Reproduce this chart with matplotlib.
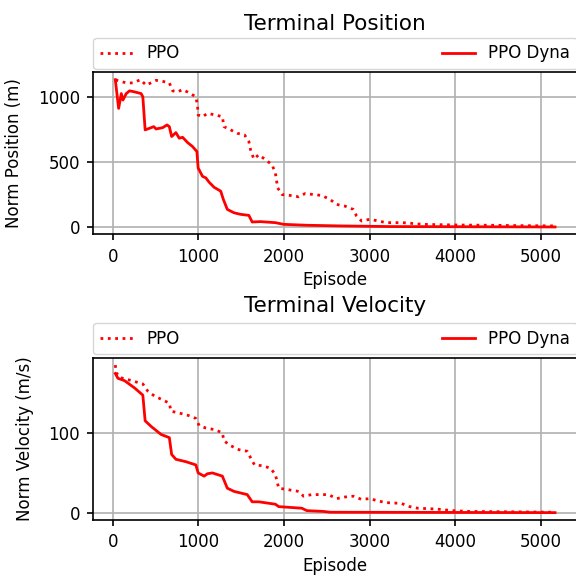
import matplotlib
matplotlib.use('Agg')
import matplotlib.pyplot as plt

# 数据
pos_ppo_x = [30, 155, 233, 322, 388, 465, 504, 562, 659, 698, 756, 814, 891, 969, 988, 996,
             1047, 1105, 1202, 1279, 1298, 1376, 1453, 1539, 1589, 1609, 1647, 1705, 1783,
             1860, 1899, 1926, 1977, 2074, 2171, 2248, 2345, 2442, 2539, 2616, 2713, 2810,
             2849, 2907, 3004, 3101, 3198, 3391, 3624, 4012, 4399, 4787, 5170]
pos_ppo_y = [1130, 1107, 1107, 1132, 1089, 1115, 1127, 1122, 1107, 1046, 1038, 1056, 1031,
             1000, 936, 860, 847, 873, 860, 847, 771, 746, 720, 707, 656, 593, 522, 555, 517,
             478, 415, 300, 249, 242, 232, 257, 249, 242, 211, 173, 160, 135, 84, 46, 59, 46,
             33, 33, 20, 15, 13, 10, 8]

pos_dyna_x = [27, 66, 97, 116, 155, 194, 252, 329, 349, 376, 426, 477, 504, 581, 632, 659,
              686, 736, 775, 814, 872, 930, 981, 996, 1047, 1086, 1124, 1182, 1260, 1291,
              1337, 1415, 1492, 1589, 1628, 1725, 1899, 1996, 2267, 2655, 3236, 5170]
pos_dyna_y = [1132, 911, 1025, 975, 1025, 1046, 1038, 1025, 1000, 746, 758, 771, 753, 763,
              784, 771, 695, 725, 682, 689, 649, 618, 580, 453, 389, 377, 344, 305, 275, 211,
              135, 109, 97, 89, 38, 41, 33, 20, 13, 8, 3, 0]

vel_ppo_x = [27, 39, 78, 155, 252, 349, 407, 484, 562, 659, 678, 764, 872, 969, 1008, 1086,
             1190, 1279, 1298, 1376, 1473, 1570, 1609, 1655, 1744, 1841, 1899, 1938, 2054,
             2171, 2229, 2326, 2422, 2519, 2616, 2713, 2810, 2907, 3004, 3101, 3198, 3372,
             3469, 3566, 3779, 3973, 4167, 5170]
vel_ppo_y = [184.5, 175, 169, 167, 164, 161, 152, 146, 142, 137, 127, 125, 122, 118, 109, 106,
             104, 100, 90, 84, 79, 77, 69, 60, 59, 56, 48, 31, 29, 27, 21, 23, 23, 23, 18,
             20, 21, 17, 18, 15, 13, 12, 8, 6, 5, 3, 2, 1]

vel_dyna_x = [27, 58, 136, 252, 349, 376, 446, 562, 659, 686, 736, 853, 969, 996, 1066, 1105,
              1163, 1279, 1337, 1415, 1570, 1628, 1705, 1899, 1938, 2074, 2209, 2267, 2461,
              2539, 5170]
vel_dyna_y = [174, 168, 165, 156, 147, 115, 108, 98, 94, 73, 67, 64, 60, 50, 46, 49, 50, 46,
              31, 27, 23, 14, 14, 11, 8, 7, 6, 3, 2, 1, 0.5]

plt.rcParams['font.size'] = 12
plt.rcParams['axes.linewidth'] = 1.2

# 画布
fig = plt.figure(figsize=(5.76, 5.76), dpi=100)
ax1 = fig.add_axes([0.162, 0.5932, 0.8398, 0.2813])
ax2 = fig.add_axes([0.162, 0.0972, 0.8398, 0.2818])

panels = [
    (ax1, pos_ppo_x, pos_ppo_y, pos_dyna_x, pos_dyna_y, 'Terminal Position', 'Norm Position (m)', 1.262, -0.145),
    (ax2, vel_ppo_x, vel_ppo_y, vel_dyna_x, vel_dyna_y, 'Terminal Velocity', 'Norm Velocity (m/s)', 1.283, -0.1225),
]

for ax, px, py, dx, dy, title, ylabel, ty, lx in panels:
    ax.plot(px, py, color='red', linestyle=':', linewidth=2, label='PPO')
    ax.plot(dx, dy, color='red', linestyle='-', linewidth=2, label='PPO Dyna')
    ax.set_xticks([0, 1000, 2000, 3000, 4000, 5000])
    ax.tick_params(length=4.5, width=1.2, pad=5)
    ax.grid(True, color='#b0b0b0', linewidth=1.2)
    ax.set_xlabel('Episode')
    ax.set_ylabel(ylabel)
    ax.xaxis.set_label_coords(0.5, -0.225)
    ax.yaxis.set_label_coords(lx, 0.5)
    ax.set_title(title, y=ty, pad=0, fontsize=15.5)
    ax.legend(bbox_to_anchor=(0, 1.02, 1, 0.102), loc='lower left', ncol=2,
              mode='expand', borderaxespad=0.)

ax1.set_yticks([0, 500, 1000])
ax2.set_yticks([0, 100])

plt.savefig('out.png', dpi=100)
